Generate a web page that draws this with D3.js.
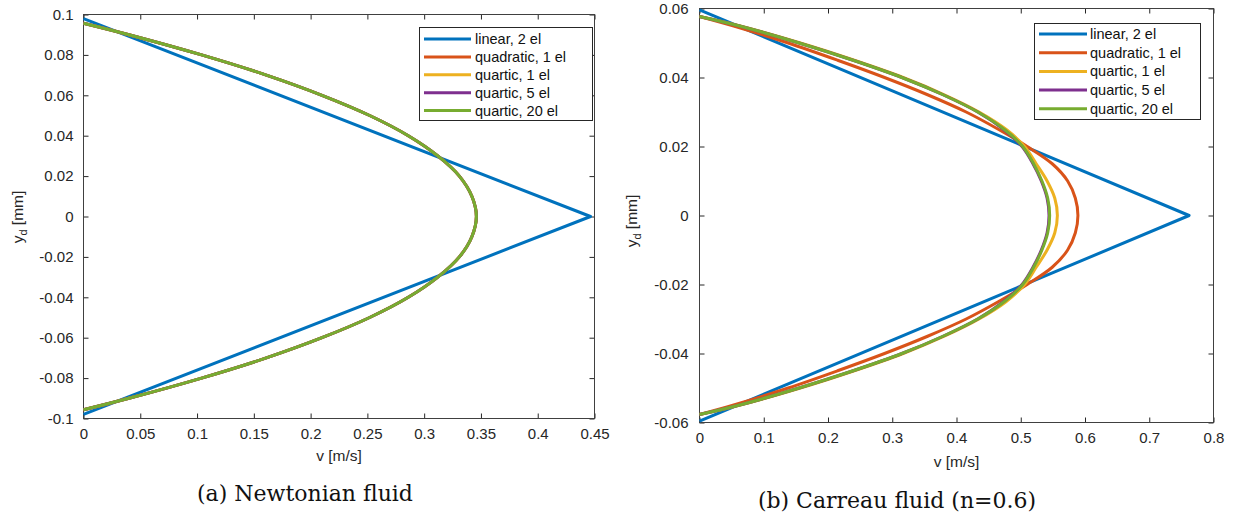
<!DOCTYPE html>
<html>
<head>
<meta charset="utf-8">
<script src="https://cdn.jsdelivr.net/npm/d3@7"></script>
<style>
  body { margin: 0; background: #fff; }
  svg { display: block; }
  .tick text { font-family: "Liberation Sans", Arial, sans-serif; font-size: 15px; fill: #262626; }
  .tick line { stroke: #262626; }
  .domain { display: none; }
  .lbl { font-family: "Liberation Sans", Arial, sans-serif; font-size: 15.5px; fill: #262626; }
  .cap { font-family: "DejaVu Serif", "Liberation Serif", serif; font-size: 22px; fill: #111; }
  .leg { font-family: "Liberation Sans", Arial, sans-serif; font-size: 14.5px; fill: #111; }
</style>
</head>
<body>
<svg id="chart" width="1237" height="520"></svg>
<script>
// series names + MATLAB default colours
var seriesNames = ["linear, 2 el", "quadratic, 1 el", "quartic, 1 el", "quartic, 5 el", "quartic, 20 el"];
var seriesColors = ["#0072BD", "#D95319", "#EDB120", "#7E2F8E", "#77AC30"];

// (a) Newtonian: y levels [mm] and velocity [m/s]
var newtY = [0.0957, 0.09, 0.08, 0.07, 0.06, 0.05, 0.04, 0.03, 0.02, 0.01, 0,
             -0.01, -0.02, -0.03, -0.04, -0.05, -0.06, -0.07, -0.08, -0.09, -0.0957];
var newtQuad1 = [0, 0.040, 0.104, 0.161, 0.210, 0.252, 0.286, 0.312, 0.331, 0.342, 0.346,
                 0.342, 0.331, 0.312, 0.286, 0.252, 0.210, 0.161, 0.104, 0.040, 0];
var newtQuart1 = [0, 0.040, 0.104, 0.161, 0.210, 0.252, 0.286, 0.312, 0.331, 0.342, 0.346,
                  0.342, 0.331, 0.312, 0.286, 0.252, 0.210, 0.161, 0.104, 0.040, 0];
var newtQuart5 = [0, 0.040, 0.104, 0.161, 0.210, 0.252, 0.286, 0.312, 0.331, 0.342, 0.346,
                  0.342, 0.331, 0.312, 0.286, 0.252, 0.210, 0.161, 0.104, 0.040, 0];
var newtQuart20 = [0, 0.040, 0.104, 0.161, 0.210, 0.252, 0.286, 0.312, 0.331, 0.342, 0.346,
                   0.342, 0.331, 0.312, 0.286, 0.252, 0.210, 0.161, 0.104, 0.040, 0];
var newtLinY = [0.098, 0, -0.098];
var newtLinV = [0, 0.4465, 0];

// (b) Carreau n=0.6
var carY = [0.0577, 0.055, 0.05, 0.045, 0.04, 0.035, 0.03, 0.025, 0.02, 0.015, 0.01, 0.005, 0,
            -0.005, -0.01, -0.015, -0.02, -0.025, -0.03, -0.035, -0.04, -0.045, -0.05, -0.055, -0.0577];
var carQuad1 = [0, 0.052, 0.138, 0.215, 0.288, 0.355, 0.415, 0.465, 0.510, 0.549, 0.573, 0.585, 0.589,
                0.585, 0.573, 0.549, 0.510, 0.465, 0.415, 0.355, 0.288, 0.215, 0.138, 0.052, 0];
var carQuart1 = [0, 0.062, 0.157, 0.241, 0.317, 0.381, 0.435, 0.477, 0.506, 0.524, 0.541, 0.553, 0.557,
                 0.553, 0.541, 0.524, 0.506, 0.477, 0.435, 0.381, 0.317, 0.241, 0.157, 0.062, 0];
var carQuart5 = [0, 0.061, 0.155, 0.239, 0.315, 0.379, 0.433, 0.473, 0.502, 0.519, 0.532, 0.541, 0.544,
                 0.541, 0.532, 0.519, 0.502, 0.473, 0.433, 0.379, 0.315, 0.239, 0.155, 0.061, 0];
var carQuart20 = [0, 0.061, 0.155, 0.239, 0.315, 0.379, 0.433, 0.474, 0.503, 0.520, 0.533, 0.542, 0.545,
                  0.542, 0.533, 0.520, 0.503, 0.474, 0.433, 0.379, 0.315, 0.239, 0.155, 0.061, 0];
var carLinY = [0.0596, 0, -0.0596];
var carLinV = [0, 0.762, 0];

// ticks
var newtXTicks = [0, 0.05, 0.1, 0.15, 0.2, 0.25, 0.3, 0.35, 0.4, 0.45];
var newtXLabels = ["0", "0.05", "0.1", "0.15", "0.2", "0.25", "0.3", "0.35", "0.4", "0.45"];
var newtYTicks = [-0.1, -0.08, -0.06, -0.04, -0.02, 0, 0.02, 0.04, 0.06, 0.08, 0.1];
var newtYLabels = ["-0.1", "-0.08", "-0.06", "-0.04", "-0.02", "0", "0.02", "0.04", "0.06", "0.08", "0.1"];
var carXTicks = [0, 0.1, 0.2, 0.3, 0.4, 0.5, 0.6, 0.7, 0.8];
var carXLabels = ["0", "0.1", "0.2", "0.3", "0.4", "0.5", "0.6", "0.7", "0.8"];
var carYTicks = [-0.06, -0.04, -0.02, 0, 0.02, 0.04, 0.06];
var carYLabels = ["-0.06", "-0.04", "-0.02", "0", "0.02", "0.04", "0.06"];

var svg = d3.select("#chart");

function zipPts(vs, ys) {
  return vs.map(function(v, i) { return [v, ys[i]]; });
}

function drawPanel(p) {
  var x = d3.scaleLinear().domain(p.xDomain).range([p.left, p.right]);
  var y = d3.scaleLinear().domain(p.yDomain).range([p.bottom, p.top]);
  var g = svg.append("g");

  // ticks inside on all four sides
  g.append("g").attr("transform", "translate(0," + p.bottom + ")")
    .call(d3.axisBottom(x).tickValues(p.xTicks).tickFormat(function(d, i) { return p.xLabels[i]; })
      .tickSizeInner(-5).tickSizeOuter(0).tickPadding(p.xPad));
  g.append("g").attr("transform", "translate(0," + p.top + ")")
    .call(d3.axisTop(x).tickValues(p.xTicks).tickFormat("").tickSizeInner(-5).tickSizeOuter(0));
  g.append("g").attr("transform", "translate(" + p.left + ",0)")
    .call(d3.axisLeft(y).tickValues(p.yTicks).tickFormat(function(d, i) { return p.yLabels[i]; })
      .tickSizeInner(-5).tickSizeOuter(0).tickPadding(p.yPad));
  g.append("g").attr("transform", "translate(" + p.right + ",0)")
    .call(d3.axisRight(y).tickValues(p.yTicks).tickFormat("").tickSizeInner(-5).tickSizeOuter(0));

  g.append("rect")
    .attr("x", p.left).attr("y", p.top)
    .attr("width", p.right - p.left).attr("height", p.bottom - p.top)
    .attr("fill", "none").attr("stroke", "#404040").attr("stroke-width", 1);

  var line = d3.line()
    .x(function(d) { return x(d[0]); })
    .y(function(d) { return y(d[1]); });
  var smooth = d3.line()
    .x(function(d) { return x(d[0]); })
    .y(function(d) { return y(d[1]); })
    .curve(d3.curveCatmullRom.alpha(0.5));

  g.append("path").datum(zipPts(p.linV, p.linY))
    .attr("d", line).attr("fill", "none").attr("stroke", seriesColors[0])
    .attr("stroke-width", 3).attr("stroke-linejoin", "round");
  p.curves.forEach(function(vs, i) {
    g.append("path").datum(zipPts(vs, p.curveY))
      .attr("d", smooth).attr("fill", "none").attr("stroke", seriesColors[i + 1])
      .attr("stroke-width", 3);
  });

  // axis labels
  g.append("text").attr("class", "lbl").attr("text-anchor", "middle")
    .attr("x", (p.left + p.right) / 2).attr("y", p.xLabelY).text("v [m/s]");
  var yl = g.append("text").attr("class", "lbl").attr("text-anchor", "middle")
    .attr("transform", "translate(" + p.yLabelX + "," + p.yLabelMid + ") rotate(-90)");
  yl.append("tspan").text("y");
  yl.append("tspan").attr("dy", 4).attr("font-size", "11px").text("d");
  yl.append("tspan").attr("dy", -4).text(" [mm]");

  // legend
  var L = p.legend;
  g.append("rect").attr("x", L.x0).attr("y", L.y0).attr("width", L.x1 - L.x0).attr("height", L.y1 - L.y0)
    .attr("fill", "#fff").attr("stroke", "#262626").attr("stroke-width", 1);
  seriesNames.forEach(function(name, i) {
    var yy = L.row0 + i * L.step;
    g.append("line").attr("x1", L.lx0).attr("x2", L.lx1).attr("y1", yy).attr("y2", yy)
      .attr("stroke", seriesColors[i]).attr("stroke-width", 3);
    g.append("text").attr("class", "leg").attr("x", L.tx).attr("y", yy + 5).text(name);
  });

  g.append("text").attr("class", "cap").attr("text-anchor", "middle")
    .attr("x", p.capX).attr("y", p.capY).text(p.caption);
}

drawPanel({
  left: 83.5, right: 594.5, top: 14.5, bottom: 418.5,
  xDomain: [0, 0.45], yDomain: [-0.1, 0.1],
  xTicks: newtXTicks, xLabels: newtXLabels, yTicks: newtYTicks, yLabels: newtYLabels,
  xPad: 10, yPad: 10,
  linV: newtLinV, linY: newtLinY,
  curveY: newtY, curves: [newtQuad1, newtQuart1, newtQuart5, newtQuart20],
  xLabelY: 461, yLabelX: 23, yLabelMid: 217,
  legend: { x0: 419.5, x1: 592.5, y0: 27.5, y1: 120.5, lx0: 424, lx1: 471, tx: 475, row0: 39, step: 17.9 },
  caption: "(a) Newtonian fluid", capX: 305, capY: 501
});

drawPanel({
  left: 699.5, right: 1213.5, top: 8.5, bottom: 422.5,
  xDomain: [0, 0.8], yDomain: [-0.06, 0.06],
  xTicks: carXTicks, xLabels: carXLabels, yTicks: carYTicks, yLabels: carYLabels,
  xPad: 10, yPad: 11,
  linV: carLinV, linY: carLinY,
  curveY: carY, curves: [carQuad1, carQuart1, carQuart5, carQuart20],
  xLabelY: 467, yLabelX: 637, yLabelMid: 221,
  legend: { x0: 1034.5, x1: 1200.5, y0: 23.5, y1: 119.5, lx0: 1039, lx1: 1087, tx: 1090, row0: 34, step: 18.7 },
  caption: "(b) Carreau fluid (n=0.6)", capX: 897, capY: 508
});
</script>
</body>
</html>
